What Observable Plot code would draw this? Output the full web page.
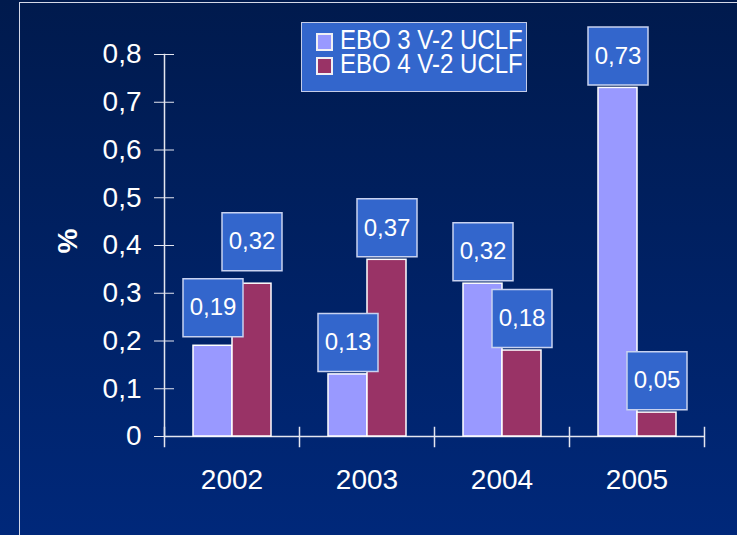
<!DOCTYPE html>
<html><head><meta charset="utf-8">
<script src="https://cdn.jsdelivr.net/npm/d3@7"></script>
<script src="https://cdn.jsdelivr.net/npm/@observablehq/plot@0.6"></script>
<style>
html,body{margin:0;padding:0;width:737px;height:535px;overflow:hidden;}
body{position:relative;background:linear-gradient(#001a4d,#00287a);font-family:"Liberation Sans",Arial,sans-serif;color:#fff;}
#border{position:absolute;left:19px;top:2px;width:800px;height:700px;border:1.5px solid #d4d8e8;}
#chart{position:absolute;left:0;top:0;}
#legend{position:absolute;left:301px;top:22px;width:224px;height:68px;background:#3366cc;border:1.5px solid #c4cce8;z-index:2;}
.sw{position:absolute;left:14px;width:13px;height:14px;border:2px solid #f0f0f4;}
.lt{position:absolute;left:38px;font-size:24px;line-height:20px;white-space:nowrap;color:#fff;transform:scaleY(1.12);transform-origin:0 18px;}
#ylab{position:absolute;left:68px;top:241px;transform:translate(-50%,-50%) rotate(-90deg);font-size:28px;font-weight:bold;line-height:28px;z-index:2;}
</style></head>
<body>
<div id="border"></div>
<div id="chart"></div>
<div id="legend"></div>
<div id="ylab">%</div>
<script>
const years = ["2002", "2003", "2004", "2005"];
const series = ["EBO 3 V-2 UCLF", "EBO 4 V-2 UCLF"];
const ebo3 = [0.19, 0.13, 0.32, 0.73];
const ebo4 = [0.32, 0.37, 0.18, 0.05];
const yTicks = [0, 0.1, 0.2, 0.3, 0.4, 0.5, 0.6, 0.7, 0.8];
const colors = ["#9999ff", "#993366"];

const data = years.flatMap((yr, i) => [
  {year: yr, series: series[0], value: ebo3[i]},
  {year: yr, series: series[1], value: ebo4[i]}
]);

const loc = d3.formatLocale({decimal: ",", thousands: ".", grouping: [3], currency: ["", ""]});
const tickFmt = loc.format(".1~f");
const valFmt = loc.format(".2f");

const boxSymbol = {draw(ctx) { ctx.rect(-30, -29, 60, 58); }};
const labelMarks = (filter, dy) => [
  Plot.dot(data, {filter, fx: "year", x: "series", y: "value", r: 30, symbol: boxSymbol,
    fill: "#3366cc", stroke: "#c8d2f0", strokeWidth: 1.5, dy}),
  Plot.text(data, {filter, fx: "year", x: "series", y: "value", text: d => valFmt(d.value),
    fill: "white", fontSize: 24, dy})
];

const lineColor = "#e4e6f0";
const chart = Plot.plot({
  width: 737, height: 535,
  marginLeft: 163, marginRight: 32, marginTop: 54, marginBottom: 99,
  style: {background: "transparent", color: "#ffffff", fontFamily: "'Liberation Sans', Arial, sans-serif", fontSize: "28px", overflow: "visible"},
  fx: {domain: years, padding: 0, label: null, axis: null},
  x: {domain: series, paddingInner: 0, paddingOuter: 0.715, axis: null},
  y: {domain: [0, 0.8], axis: null},
  color: {domain: series, range: colors},
  marks: [
    Plot.frame({anchor: "left", facetAnchor: "left", stroke: lineColor, strokeWidth: 1.5}),
    Plot.frame({anchor: "left", stroke: lineColor, strokeWidth: 1.5, insetTop: 373, insetBottom: -10}),
    Plot.frame({anchor: "right", facetAnchor: "right", stroke: lineColor, strokeWidth: 1.5, insetTop: 373, insetBottom: -10}),
    Plot.ruleY([0], {stroke: lineColor, strokeWidth: 1.5}),
    Plot.barY(data, {fx: "year", x: "series", y: "value", fill: "series", stroke: "#ffffff", strokeWidth: 1.5}),
    Plot.axisY({ticks: yTicks, tickSize: 20, dx: 10, tickPadding: 13, tickFormat: tickFmt, fontSize: 28, stroke: lineColor, fill: "#ffffff", label: null}),
    Plot.axisFx({anchor: "bottom", tickSize: 0, tickPadding: 33, fontSize: 28, fill: "#ffffff", label: null}),
    ...labelMarks(d => d.year !== "2002", -32),
    ...labelMarks(d => d.year === "2002" && d.series === series[0], -38),
    ...labelMarks(d => d.year === "2002" && d.series === series[1], -42)
  ]
});
document.getElementById("chart").appendChild(chart);

const legend = document.getElementById("legend");
series.forEach((s, i) => {
  const sw = document.createElement("div");
  sw.className = "sw";
  sw.style.top = (10 + 24 * i) + "px";
  sw.style.background = colors[i];
  legend.appendChild(sw);
  const t = document.createElement("div");
  t.className = "lt";
  t.style.top = (8 + 24 * i) + "px";
  t.textContent = s;
  legend.appendChild(t);
});
</script>
</body></html>
